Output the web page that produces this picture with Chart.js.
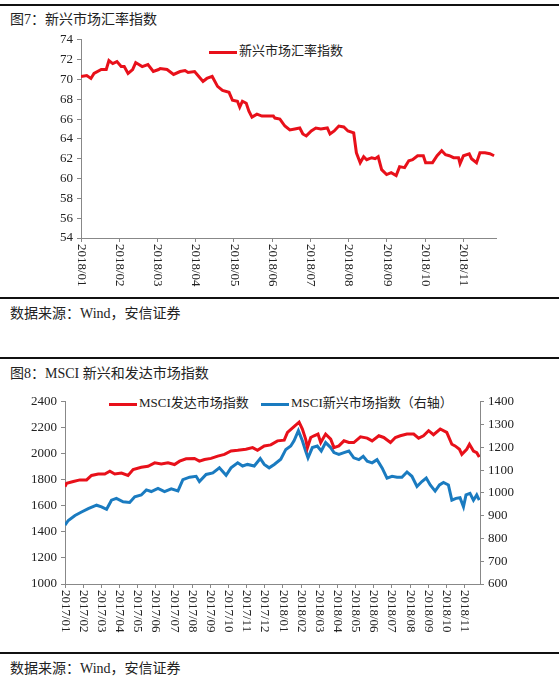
<!DOCTYPE html>
<html>
<head>
<meta charset="utf-8">
<script src="https://cdn.jsdelivr.net/npm/chart.js@4"></script>
<style>
  body { margin: 0; background: #fff; width: 559px; height: 679px; position: relative; overflow: hidden;
         font-family: "Liberation Serif", "Noto Sans CJK SC", serif; color: #222; }
  .rule { position: absolute; left: 0; width: 559px; height: 2px; background: #111; }
  .txt { position: absolute; font-size: 14px; white-space: nowrap; }
  .leg { position: absolute; font-size: 13px; white-space: nowrap; line-height: 15px; }
  .leg i { display: inline-block; width: 28px; height: 3px; vertical-align: middle; margin-right: 2px; }
  canvas { position: absolute; left: 0; }
</style>
</head>
<body>
<div class="rule" style="top:4px"></div>
<div class="txt" style="left:10px;top:8px">图7：新兴市场汇率指数</div>
<div class="leg" style="left:209px;top:43px"><i style="background:#e8101a"></i>新兴市场汇率指数</div>
<div style="position:absolute;top:28px;left:0;width:559px;height:262px"><canvas id="fx"></canvas></div>
<div class="rule" style="top:297px"></div>
<div class="txt" style="left:10px;top:302px">数据来源：Wind，安信证券</div>

<div class="rule" style="top:357px"></div>
<div class="txt" style="left:10px;top:362px">图8：MSCI 新兴和发达市场指数</div>
<div class="leg" style="left:109px;top:395px"><i style="background:#e8101a"></i>MSCI发达市场指数</div>
<div class="leg" style="left:261px;top:395px"><i style="background:#1a7bc0"></i>MSCI新兴市场指数（右轴）</div>
<div style="position:absolute;top:390px;left:0;width:559px;height:246px"><canvas id="msci"></canvas></div>
<div class="rule" style="top:652px"></div>
<div class="txt" style="left:10px;top:657px">数据来源：Wind，安信证券</div>

<script>
// chart 7: month position (0 = 2018/01) and index value
const fxMonths = [0,0.15,0.26,0.34,0.53,0.66,0.73,0.83,0.94,1.05,1.13,1.23,1.35,1.43,1.60,1.75,1.89,2.03,2.07,2.25,
  2.42,2.59,2.72,2.80,2.97,3.08,3.19,3.29,3.43,3.57,3.70,3.87,3.96,4.09,4.15,4.22,4.32,4.39,4.47,4.60,
  4.73,4.90,5.03,5.07,5.20,5.33,5.46,5.59,5.72,5.80,5.89,6.02,6.14,6.27,6.44,6.51,6.62,6.74,6.87,6.98,
  7.13,7.20,7.30,7.39,7.47,7.60,7.69,7.77,7.86,7.99,8.11,8.24,8.33,8.46,8.57,8.67,8.80,8.95,9.01,9.19,
  9.31,9.43,9.53,9.63,9.74,9.87,9.91,10.00,10.15,10.21,10.34,10.43,10.56,10.69,10.80];
const fxValues = [70.3,70.4,70.1,70.6,71.0,71.0,71.9,71.6,71.8,71.3,71.3,70.6,71.0,71.7,71.3,71.5,70.8,71.0,71.1,71.0,
  70.5,70.8,70.9,70.7,70.8,70.3,69.8,70.1,70.3,69.3,68.9,68.7,67.9,67.8,67.2,67.8,67.6,66.8,66.2,66.5,
  66.3,66.3,66.3,66.1,66.0,65.3,64.9,65.0,65.1,64.5,64.3,64.8,65.1,65.0,65.1,64.5,64.8,65.3,65.2,64.8,
  64.6,62.6,61.6,62.2,61.9,62.1,62.0,62.2,60.9,60.4,60.6,60.3,61.2,61.1,61.8,61.9,62.3,62.3,61.6,61.6,
  62.3,62.8,62.4,62.3,62.1,62.1,61.5,62.3,62.5,62.0,61.6,62.6,62.6,62.5,62.3];
const fxTicks = ['2018/01','2018/02','2018/03','2018/04','2018/05','2018/06','2018/07','2018/08','2018/09','2018/10','2018/11'];

// chart 8: month position (0 = 2017/01)
const dmMonths = [0,0.09,0.46,0.82,1.19,1.46,1.83,2.19,2.47,2.74,3.11,3.47,3.75,4.20,4.57,4.94,5.30,5.67,6.03,6.31,
  6.67,7.13,7.40,7.68,8.04,8.41,8.78,9.14,9.51,9.96,10.33,10.60,10.97,11.33,11.70,12.07,12.25,12.61,12.89,13.07,
  13.25,13.35,13.53,13.71,13.93,14.08,14.35,14.63,14.81,15.08,15.36,15.63,15.90,16.27,16.64,16.91,17.28,17.55,17.92,18.19,
  18.46,18.83,19.20,19.47,19.74,20.02,20.29,20.66,21.02,21.30,21.48,21.72,21.85,22.12,22.27,22.49,22.67,22.81];
const dmValues = [1748,1774,1787,1800,1800,1834,1845,1845,1866,1845,1852,1834,1879,1897,1905,1931,1923,1931,1918,1944,
  1962,1965,1944,1957,1965,1983,1996,2022,2027,2035,2048,2027,2061,2069,2100,2105,2165,2210,2244,2191,
  2113,2048,2126,2139,2152,2087,2152,2113,2048,2061,2100,2087,2087,2131,2121,2100,2139,2126,2087,2126,
  2139,2152,2152,2121,2139,2178,2147,2191,2165,2074,2061,2035,1996,2035,2074,2022,2009,1975];
const emMonths = [0,0.18,0.55,0.91,1.28,1.74,2.01,2.29,2.56,2.83,3.20,3.56,3.84,4.20,4.48,4.75,5.12,5.48,5.85,6.22,
  6.49,6.86,7.22,7.40,7.77,8.14,8.50,8.87,9.14,9.51,9.78,10.05,10.42,10.75,10.97,11.24,11.52,11.88,12.16,12.43,
  12.61,12.85,13.07,13.25,13.38,13.62,13.89,14.11,14.35,14.63,14.81,15.08,15.36,15.63,15.90,16.18,16.42,16.64,16.91,17.18,
  17.46,17.73,18.01,18.28,18.55,18.83,19.10,19.38,19.65,19.89,20.11,20.38,20.62,20.84,21.11,21.30,21.53,21.75,21.94,22.08,
  22.30,22.49,22.67,22.81];
const emValues = [859,879,901,916,931,946,939,928,968,976,961,958,983,991,1013,1006,1020,1006,1018,1009,
  1058,1069,1073,1050,1081,1088,1110,1077,1110,1132,1118,1125,1118,1151,1125,1110,1125,1148,1191,1206,
  1229,1273,1229,1184,1154,1199,1206,1184,1221,1199,1177,1169,1177,1184,1154,1146,1161,1139,1132,1146,
  1110,1065,1073,1069,1069,1092,1073,1028,1050,1065,1035,1008,1035,1046,1035,968,976,979,939,991,
  998,968,991,968];
const msciTicks = ['2017/01','2017/02','2017/03','2017/04','2017/05','2017/06','2017/07','2017/08','2017/09','2017/10','2017/11','2017/12',
  '2018/01','2018/02','2018/03','2018/04','2018/05','2018/06','2018/07','2018/08','2018/09','2018/10','2018/11'];

const RED = '#e8101a', BLUE = '#1a7bc0', AXIS = '#888';
const numFont = { family: '"Liberation Serif", serif', size: 13 };

const toXY = (xs, ys) => xs.map((x, i) => ({ x: x, y: ys[i] }));

// draws x tick labels rotated clockwise (reading top to bottom), as in the source
const vertLabels = {
  id: 'vertLabels',
  afterDraw(chart, args, opts) {
    const sc = chart.scales.x, ctx = chart.ctx;
    ctx.save();
    ctx.fillStyle = '#222';
    ctx.font = '13px "Liberation Serif", serif';
    ctx.textBaseline = 'middle';
    ctx.textAlign = 'left';
    opts.labels.forEach((lab, i) => {
      const px = sc.getPixelForValue(i);
      ctx.save();
      ctx.translate(px, sc.top + 6);
      ctx.rotate(Math.PI / 2);
      ctx.fillText(lab, 0, 0);
      ctx.restore();
    });
    ctx.restore();
  }
};

function xAxis(max) {
  return {
    type: 'linear', min: 0, max: max,
    ticks: { display: false, stepSize: 1 },
    afterBuildTicks: s => { s.ticks = []; for (let i = 0; i <= Math.floor(max); i++) s.ticks.push({ value: i }); },
    afterFit: s => { s.height = 52; },
    grid: { drawOnChartArea: false, drawTicks: true, tickLength: 4, color: AXIS },
    border: { color: AXIS, width: 1 }
  };
}

function yAxis(min, max, step, pos, width) {
  return {
    type: 'linear', position: pos, min: min, max: max,
    ticks: { stepSize: step, color: '#222', font: numFont, padding: 4, callback: v => String(v) },
    afterFit: s => { s.width = width; },
    grid: { drawOnChartArea: false, drawTicks: true, tickLength: 4, color: AXIS },
    border: { color: AXIS, width: 1 }
  };
}

new Chart(document.getElementById('fx'), {
  type: 'line',
  data: { datasets: [{ data: toXY(fxMonths, fxValues), borderColor: RED, borderWidth: 3, pointRadius: 0, tension: 0 }] },
  options: {
    responsive: true, maintainAspectRatio: false, animation: false,
    layout: { padding: { top: 2, right: 63, left: 4, bottom: 0 } },
    plugins: { legend: { display: false }, tooltip: { enabled: false }, vertLabels: { labels: fxTicks } },
    scales: { x: xAxis(10.85), y: yAxis(54, 74, 2, 'left', 77) }
  },
  plugins: [vertLabels]
});

new Chart(document.getElementById('msci'), {
  type: 'line',
  data: { datasets: [
    { data: toXY(dmMonths, dmValues), yAxisID: 'y', borderColor: RED, borderWidth: 3, pointRadius: 0, tension: 0 },
    { data: toXY(emMonths, emValues), yAxisID: 'y1', borderColor: BLUE, borderWidth: 3, pointRadius: 0, tension: 0 }
  ] },
  options: {
    responsive: true, maintainAspectRatio: false, animation: false,
    layout: { padding: { top: 7, right: 0, left: 1, bottom: 0 } },
    plugins: { legend: { display: false }, tooltip: { enabled: false }, vertLabels: { labels: msciTicks } },
    scales: {
      x: xAxis(22.85),
      y: yAxis(1000, 2400, 200, 'left', 64),
      y1: yAxis(600, 1400, 100, 'right', 79)
    }
  },
  plugins: [vertLabels]
});
</script>
</body>
</html>
